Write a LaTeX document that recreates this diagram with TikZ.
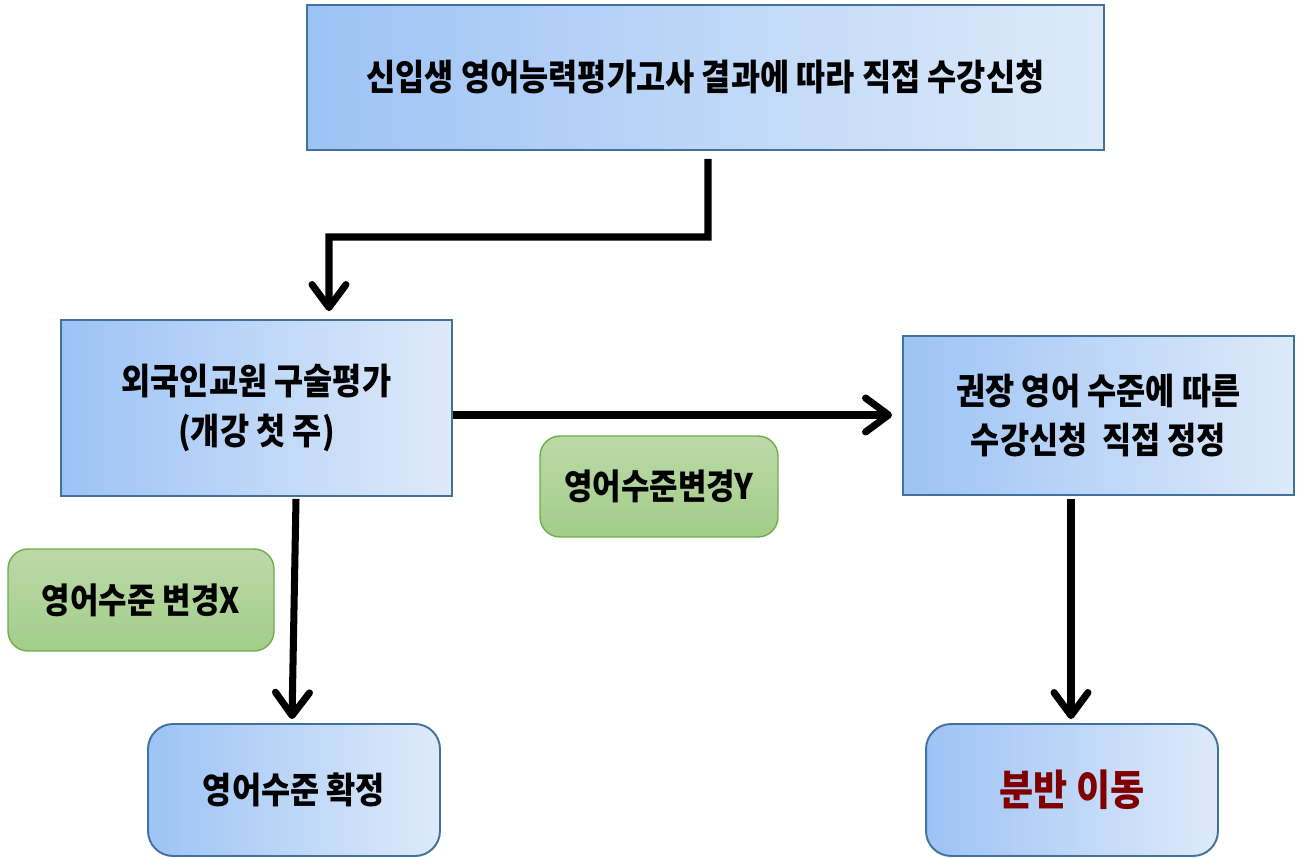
\documentclass[tikz,border=0pt]{standalone}
\usepackage{fontspec}
\setmainfont{Noto Sans CJK KR}[FakeStretch=0.88]
\usetikzlibrary{arrows.meta,shadings}
\definecolor{boxleft}{RGB}{157,195,245}
\definecolor{boxright}{RGB}{222,234,250}
\definecolor{boxline}{RGB}{65,113,156}
\definecolor{greentop}{RGB}{187,217,168}
\definecolor{greenbot}{RGB}{163,205,137}
\definecolor{greenline}{RGB}{112,173,71}
\definecolor{movered}{RGB}{128,0,0}
\tikzset{every picture/.style={/utils/exec={\bfseries}}}
\tikzset{stepnode/.style={draw=boxline,line width=1.1pt,left color=boxleft,right color=boxright,
    align=center,font=\bfseries\fontsize{20.5}{28}\selectfont,inner sep=0pt}}
\tikzset{endnode/.style={stepnode,rounded corners=0.5cm}}
\tikzset{choice/.style={draw=greenline,line width=0.8pt,top color=greentop,bottom color=greenbot,
    rounded corners=0.4cm,font=\bfseries\fontsize{20}{24}\selectfont,inner sep=0pt}}
\tikzset{flow/.style={-{Straight Barb[length=4.6mm,width=6.8mm,round]},line width=4pt,black}}

\begin{document}
\begin{tikzpicture}[x=0.02cm,y=-0.02cm]
    \useasboundingbox (0,0) rectangle (1302,858);
    % process boxes
    \node (entry) at (705.5,77.5) [stepnode,minimum width=15.94cm,minimum height=2.9cm]
        {신입생 영어능력평가고사 결과에 따라 직접 수강신청};
    \node (oral) at (256.5,408) [stepnode,minimum width=7.82cm,minimum height=3.52cm]
        {외국인교원 구술평가\\(개강 첫 주)};
    \node (fix) at (1098.5,415.5) [stepnode,minimum width=7.82cm,minimum height=3.18cm]
        {권장 영어 수준에 따른\\수강신청\ \ 직접 정정};
    \node (keep) at (294,790) [endnode,minimum width=5.84cm,minimum height=2.64cm]
        {영어수준 확정};
    \node (move) at (1072,790) [endnode,minimum width=5.84cm,minimum height=2.64cm,text=movered,
        font=\bfseries\fontsize{24}{28}\selectfont]
        {분반 이동};
    % decision labels
    \node (yes) at (659,486.5) [choice,minimum width=4.76cm,minimum height=2.02cm] {영어수준변경Y};
    \node (no) at (141,600) [choice,minimum width=5.32cm,minimum height=2.04cm] {영어수준 변경X};
    % connectors
    \coordinate (bendA) at (708,237);
    \coordinate (bendB) at (329,237);
    \draw [flow,line join=miter] ([xshift=2.5*0.02cm,yshift=-0.16cm]entry.south) -- (bendA) -- (bendB)
        -- ([xshift=72.5*0.02cm,yshift=0.16cm]oral.north);
    \coordinate (go) at ([yshift=-0.14cm]oral.east);
    \draw [flow] (go) -- ([xshift=-0.2cm]go -| fix.west);
    \draw [flow] ([xshift=39.5*0.02cm,yshift=-0.04cm]oral.south) -- ([xshift=-2*0.02cm,yshift=0.08cm]keep.north);
    \draw [flow] ([xshift=-27.5*0.02cm,yshift=-0.06cm]fix.south) -- ([xshift=-1*0.02cm,yshift=0.08cm]move.north);
\end{tikzpicture}
\end{document}
